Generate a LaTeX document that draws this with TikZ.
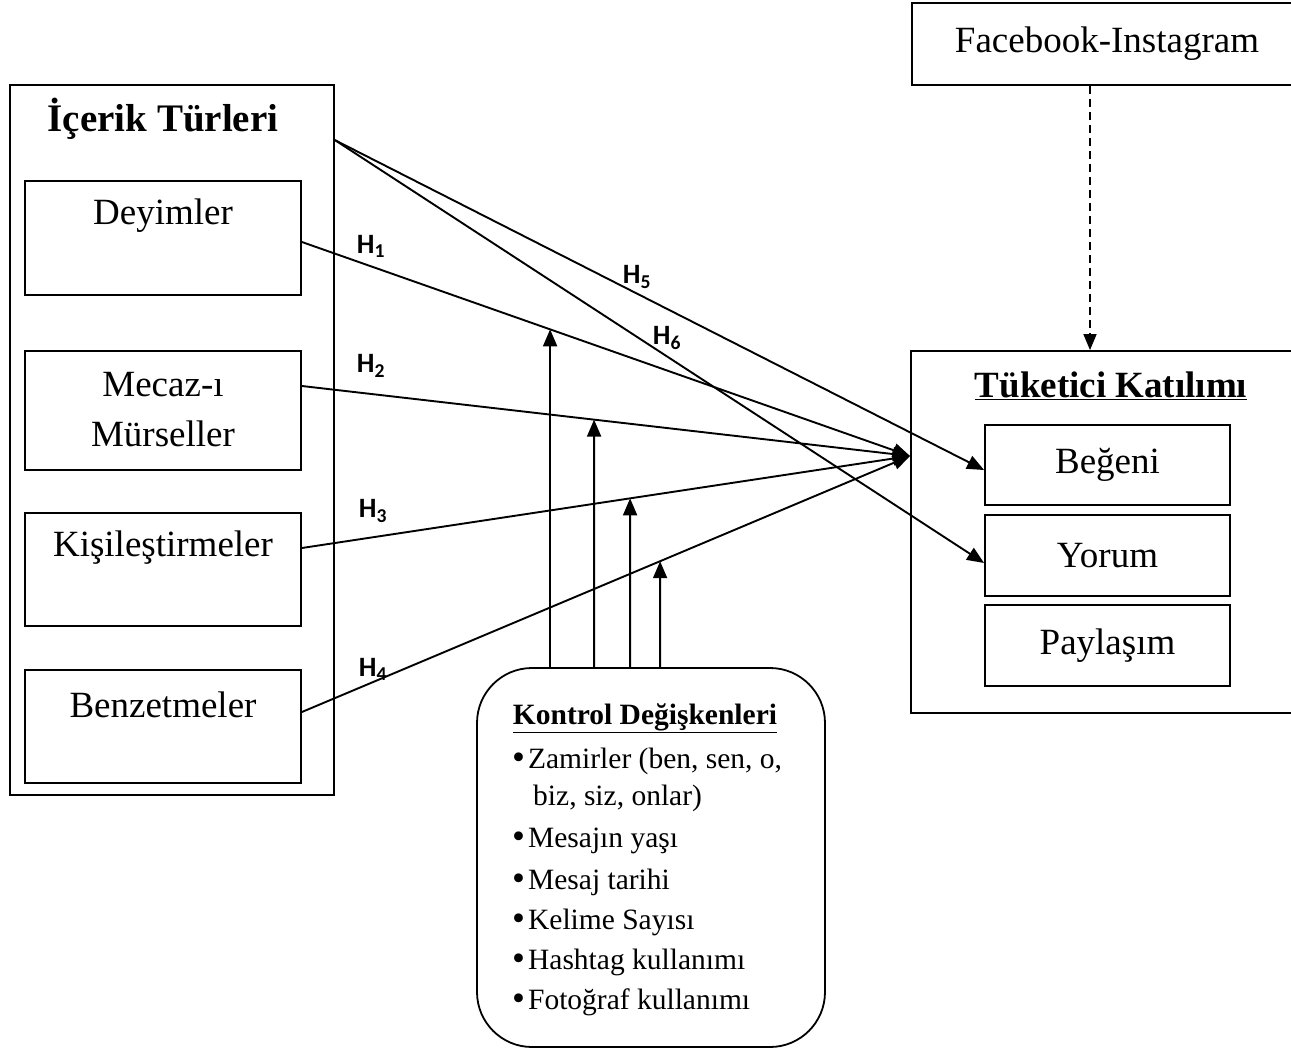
\documentclass[tikz,border=0pt]{standalone}
\usepackage{fontspec}
\setmainfont{Liberation Serif}
\newfontfamily\hfont{Carlito}
\usetikzlibrary{arrows.meta,calc}
\newcommand{\bul}{\raisebox{-1pt}{\scalebox{1.25}{\textbullet}}\hspace{3pt}}
\begin{document}
\begin{tikzpicture}[x=1pt,y=-1pt,
  box/.style={draw,line width=1.8pt,inner sep=0pt},
  txt/.style={font=\fontsize{37}{50}\selectfont,inner sep=0pt,align=center},
  ttl/.style={font=\fontsize{39}{44}\selectfont\bfseries,inner sep=0pt},
  hl/.style={font=\hfont\bfseries\fontsize{28}{32}\selectfont,inner sep=0pt},
  itm/.style={font=\fontsize{29.5}{34}\selectfont,inner sep=0pt,anchor=base west},
  conn/.style={line width=1.9pt},
  arr/.style={conn,-{Triangle[length=17pt,width=14pt]}},
]
\clip (0,0) rectangle (1291,1052);
\fill[white] (0,0) rectangle (1291,1052);

% left block
\node[box,minimum width=324pt,minimum height=710pt] (outer) at (172,440) {};
\node[ttl] (ttlA) at (163,119) {İçerik Türleri};
\node[box,minimum width=276pt,minimum height=114pt] (dey) at (163,238) {};
\node[box,minimum width=276pt,minimum height=119pt] (mec) at (163,410.5) {};
\node[box,minimum width=276pt,minimum height=113pt] (kis) at (163,569.5) {};
\node[box,minimum width=276pt,minimum height=113pt] (ben) at (163,726.5) {};
\node[txt] (tdey) at (163,216) {Deyimler};
\node[txt] (tmec) at (163,410) {Mecaz-ı\\Mürseller};
\node[txt] (tkis) at (163,548) {Kişileştirmeler};
\node[txt] (tben) at (163,705) {Benzetmeler};

% right block
\node[box,minimum width=390pt,minimum height=82pt,font=\fontsize{37}{40}\selectfont] (fb) at (1107,44) {Facebook-Instagram};
\node[box,minimum width=392pt,minimum height=362pt] (tk) at (1107,532) {};
\node[ttl,font=\fontsize{37}{42}\selectfont\bfseries] (ttlB) at (1111,386) {\underline{Tüketici Katılımı}};
\node[box,minimum width=245pt,minimum height=80pt,font=\fontsize{37}{40}\selectfont] (beg) at (1107.5,465) {Beğeni};
\node[box,minimum width=245pt,minimum height=81pt,font=\fontsize{37}{40}\selectfont] (yor) at (1107.5,555.5) {Yorum};
\node[box,minimum width=245pt,minimum height=81pt,font=\fontsize{37}{40}\selectfont] (pay) at (1107.5,645.5) {Paylaşım};

% control block
\node[box,rounded corners=55pt,minimum width=348pt,minimum height=379pt] (ctrl) at (651,857.5) {};
\node[font=\fontsize{29.5}{34}\selectfont\bfseries,inner sep=0pt] (ctitle) at (645,718) {\underline{Kontrol Değişkenleri}};
\node[itm] (i1) at (512,768) {\bul Zamirler (ben, sen, o,};
\node[itm] (i1b) at (533,805) {biz, siz, onlar)};
\node[itm] (i2) at (512,847) {\bul Mesajın yaşı};
\node[itm] (i3) at (512,889) {\bul Mesaj tarihi};
\node[itm] (i4) at (512,929) {\bul Kelime Sayısı};
\node[itm] (i5) at (512,969) {\bul Hashtag kullanımı};
\node[itm] (i6) at (512,1009) {\bul Fotoğraf kullanımı};

% coordinates
\coordinate (hub) at (910,456);
\coordinate (s1) at ([yshift=-4pt]dey.east);
\coordinate (s2) at ([yshift=24.5pt]mec.east);
\coordinate (s3) at ([yshift=21.5pt]kis.east);
\coordinate (s4) at ([yshift=14.5pt]ben.east);
\coordinate (s0) at ($(outer.north east)+(0,56)$);

% hypotheses arrows
\draw[arr] (s1) -- (hub);
\draw[arr] (s2) -- (hub);
\draw[arr] (s3) -- (hub);
\draw[arr] (s4) -- (hub);
\draw[arr] (s0) -- ([yshift=-5pt]beg.west);
\draw[arr] (s0) -- ([yshift=-7.5pt]yor.west);

% control arrows
\coordinate (c1) at ($(ctrl.north west)+(74,0)$);
\coordinate (c2) at ($(ctrl.north west)+(118,0)$);
\coordinate (c3) at ($(ctrl.north west)+(154,0)$);
\coordinate (c4) at ($(ctrl.north west)+(184,0)$);
\coordinate (c1u) at ($(c1)+(0,-100)$);
\coordinate (c2u) at ($(c2)+(0,-100)$);
\coordinate (c3u) at ($(c3)+(0,-100)$);
\coordinate (c4u) at ($(c4)+(0,-100)$);
\draw[arr] (c1) -- (intersection of s1--hub and c1--c1u);
\draw[arr] (c2) -- (intersection of s2--hub and c2--c2u);
\draw[arr] (c3) -- (intersection of s3--hub and c3--c3u);
\draw[arr] (c4) -- (intersection of s4--hub and c4--c4u);

% moderator
\draw[conn,line width=1.6pt,dash pattern=on 8pt off 5pt,-{Triangle[length=16pt,width=13pt]}] ($(fb.south)+(-17,0)$) -- ($(tk.north)+(-17,0)$);

% labels
\node[hl] (h1) at (371,246) {H\textsubscript{1}};
\node[hl] (h2) at (371,366) {H\textsubscript{2}};
\node[hl] (h3) at (373,511) {H\textsubscript{3}};
\node[hl] (h4) at (373,669) {H\textsubscript{4}};
\node[hl] (h5) at (637,277) {H\textsubscript{5}};
\node[hl] (h6) at (667,338) {H\textsubscript{6}};
\end{tikzpicture}
\end{document}
